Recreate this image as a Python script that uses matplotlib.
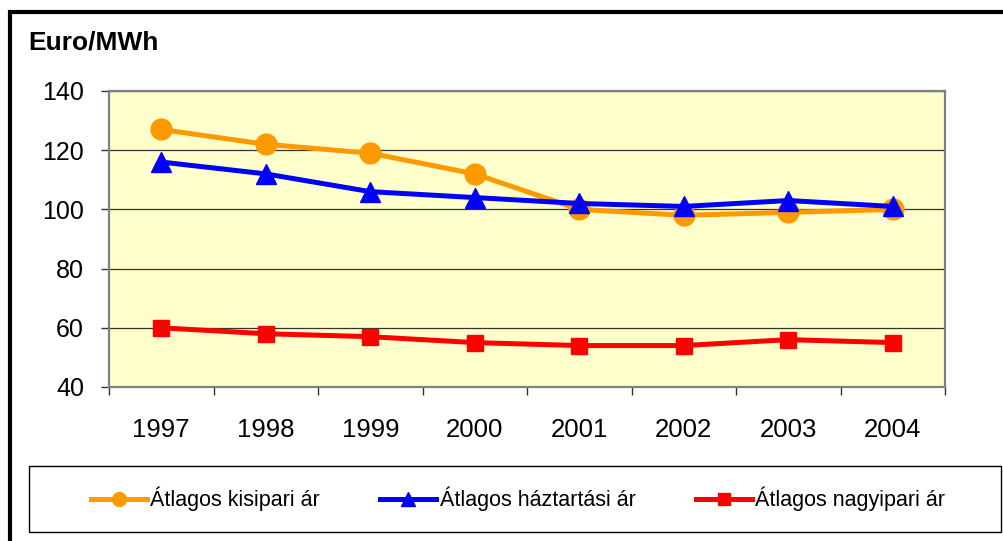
import matplotlib.pyplot as plt
from matplotlib.lines import Line2D
from matplotlib.patches import Rectangle

plt.rcParams['font.family'] = ['Liberation Sans', 'DejaVu Sans']

# data
years = ['1997', '1998', '1999', '2000', '2001', '2002', '2003', '2004']
kisipari = [127, 122, 119, 112, 100, 98, 99, 100]
haztartasi = [116, 112, 106, 104, 102, 101, 103, 101]
nagyipari = [60, 58, 57, 55, 54, 54, 56, 55]
series_names = ['Átlagos kisipari ár', 'Átlagos háztartási ár', 'Átlagos nagyipari ár']

fig = plt.figure(figsize=(10.04, 5.41), dpi=100)
W, H = 1004, 541
ax = fig.add_axes([109 / W, 1 - 387 / H, (945 - 109) / W, (387 - 91) / H])
ax.set_facecolor('#FFFFCC')

x = list(range(len(years)))
ax.plot(x, kisipari, color='#FF9900', lw=3.6, marker='o', ms=15, zorder=3)
ax.plot(x, haztartasi, color='#0000FF', lw=3.6, marker='^', ms=15, zorder=4)
ax.plot(x, nagyipari, color='#FF0000', lw=3.6, marker='s', ms=12, zorder=3)

ax.set_ylim(40, 140)
ax.set_yticks([40, 60, 80, 100, 120, 140])
ax.set_xlim(-0.5, len(years) - 0.5)
ax.set_xticks(x)
ax.set_xticklabels(years)
ax.set_xticks([i - 0.5 for i in range(len(years) + 1)], minor=True)
ax.grid(axis='y', color='#333333', lw=0.9)
ax.set_axisbelow(True)

for s in ax.spines.values():
    s.set_color('#808080')
    s.set_linewidth(1.6)

ax.tick_params(axis='y', labelsize=18, length=6, width=1, pad=12, color='#333333')
ax.tick_params(axis='x', which='major', labelsize=18.5, length=0, pad=22)
ax.tick_params(axis='x', which='minor', length=6, width=1, color='#333333')

fig.text(28 / W, 1 - 43 / H, 'Euro/MWh', fontsize=19, fontweight='bold', va='center', ha='left')

# outer frame of the chart
fig.patches.append(Rectangle((10 / W, -0.1), 1.2, 1 - 12 / H + 0.1, transform=fig.transFigure,
                             fill=False, edgecolor='black', lw=3, zorder=0))
# legend box
fig.patches.append(Rectangle((29 / W, 1 - 532 / H), (1001 - 29) / W, (532 - 466) / H,
                             transform=fig.transFigure, fill=False, edgecolor='black', lw=1))

handles = [
    Line2D([], [], color='#FF9900', lw=3.6, marker='o', ms=10),
    Line2D([], [], color='#0000FF', lw=3.6, marker='^', ms=10),
    Line2D([], [], color='#FF0000', lw=3.6, marker='s', ms=9),
]
leg = fig.legend(handles, series_names, ncol=3, loc='center',
                 bbox_to_anchor=(518 / W, 1 - 499 / H), fontsize=15.5,
                 handlelength=2.6, handletextpad=0.15, columnspacing=2.8,
                 frameon=False)

fig.savefig('out.png', dpi=100)
